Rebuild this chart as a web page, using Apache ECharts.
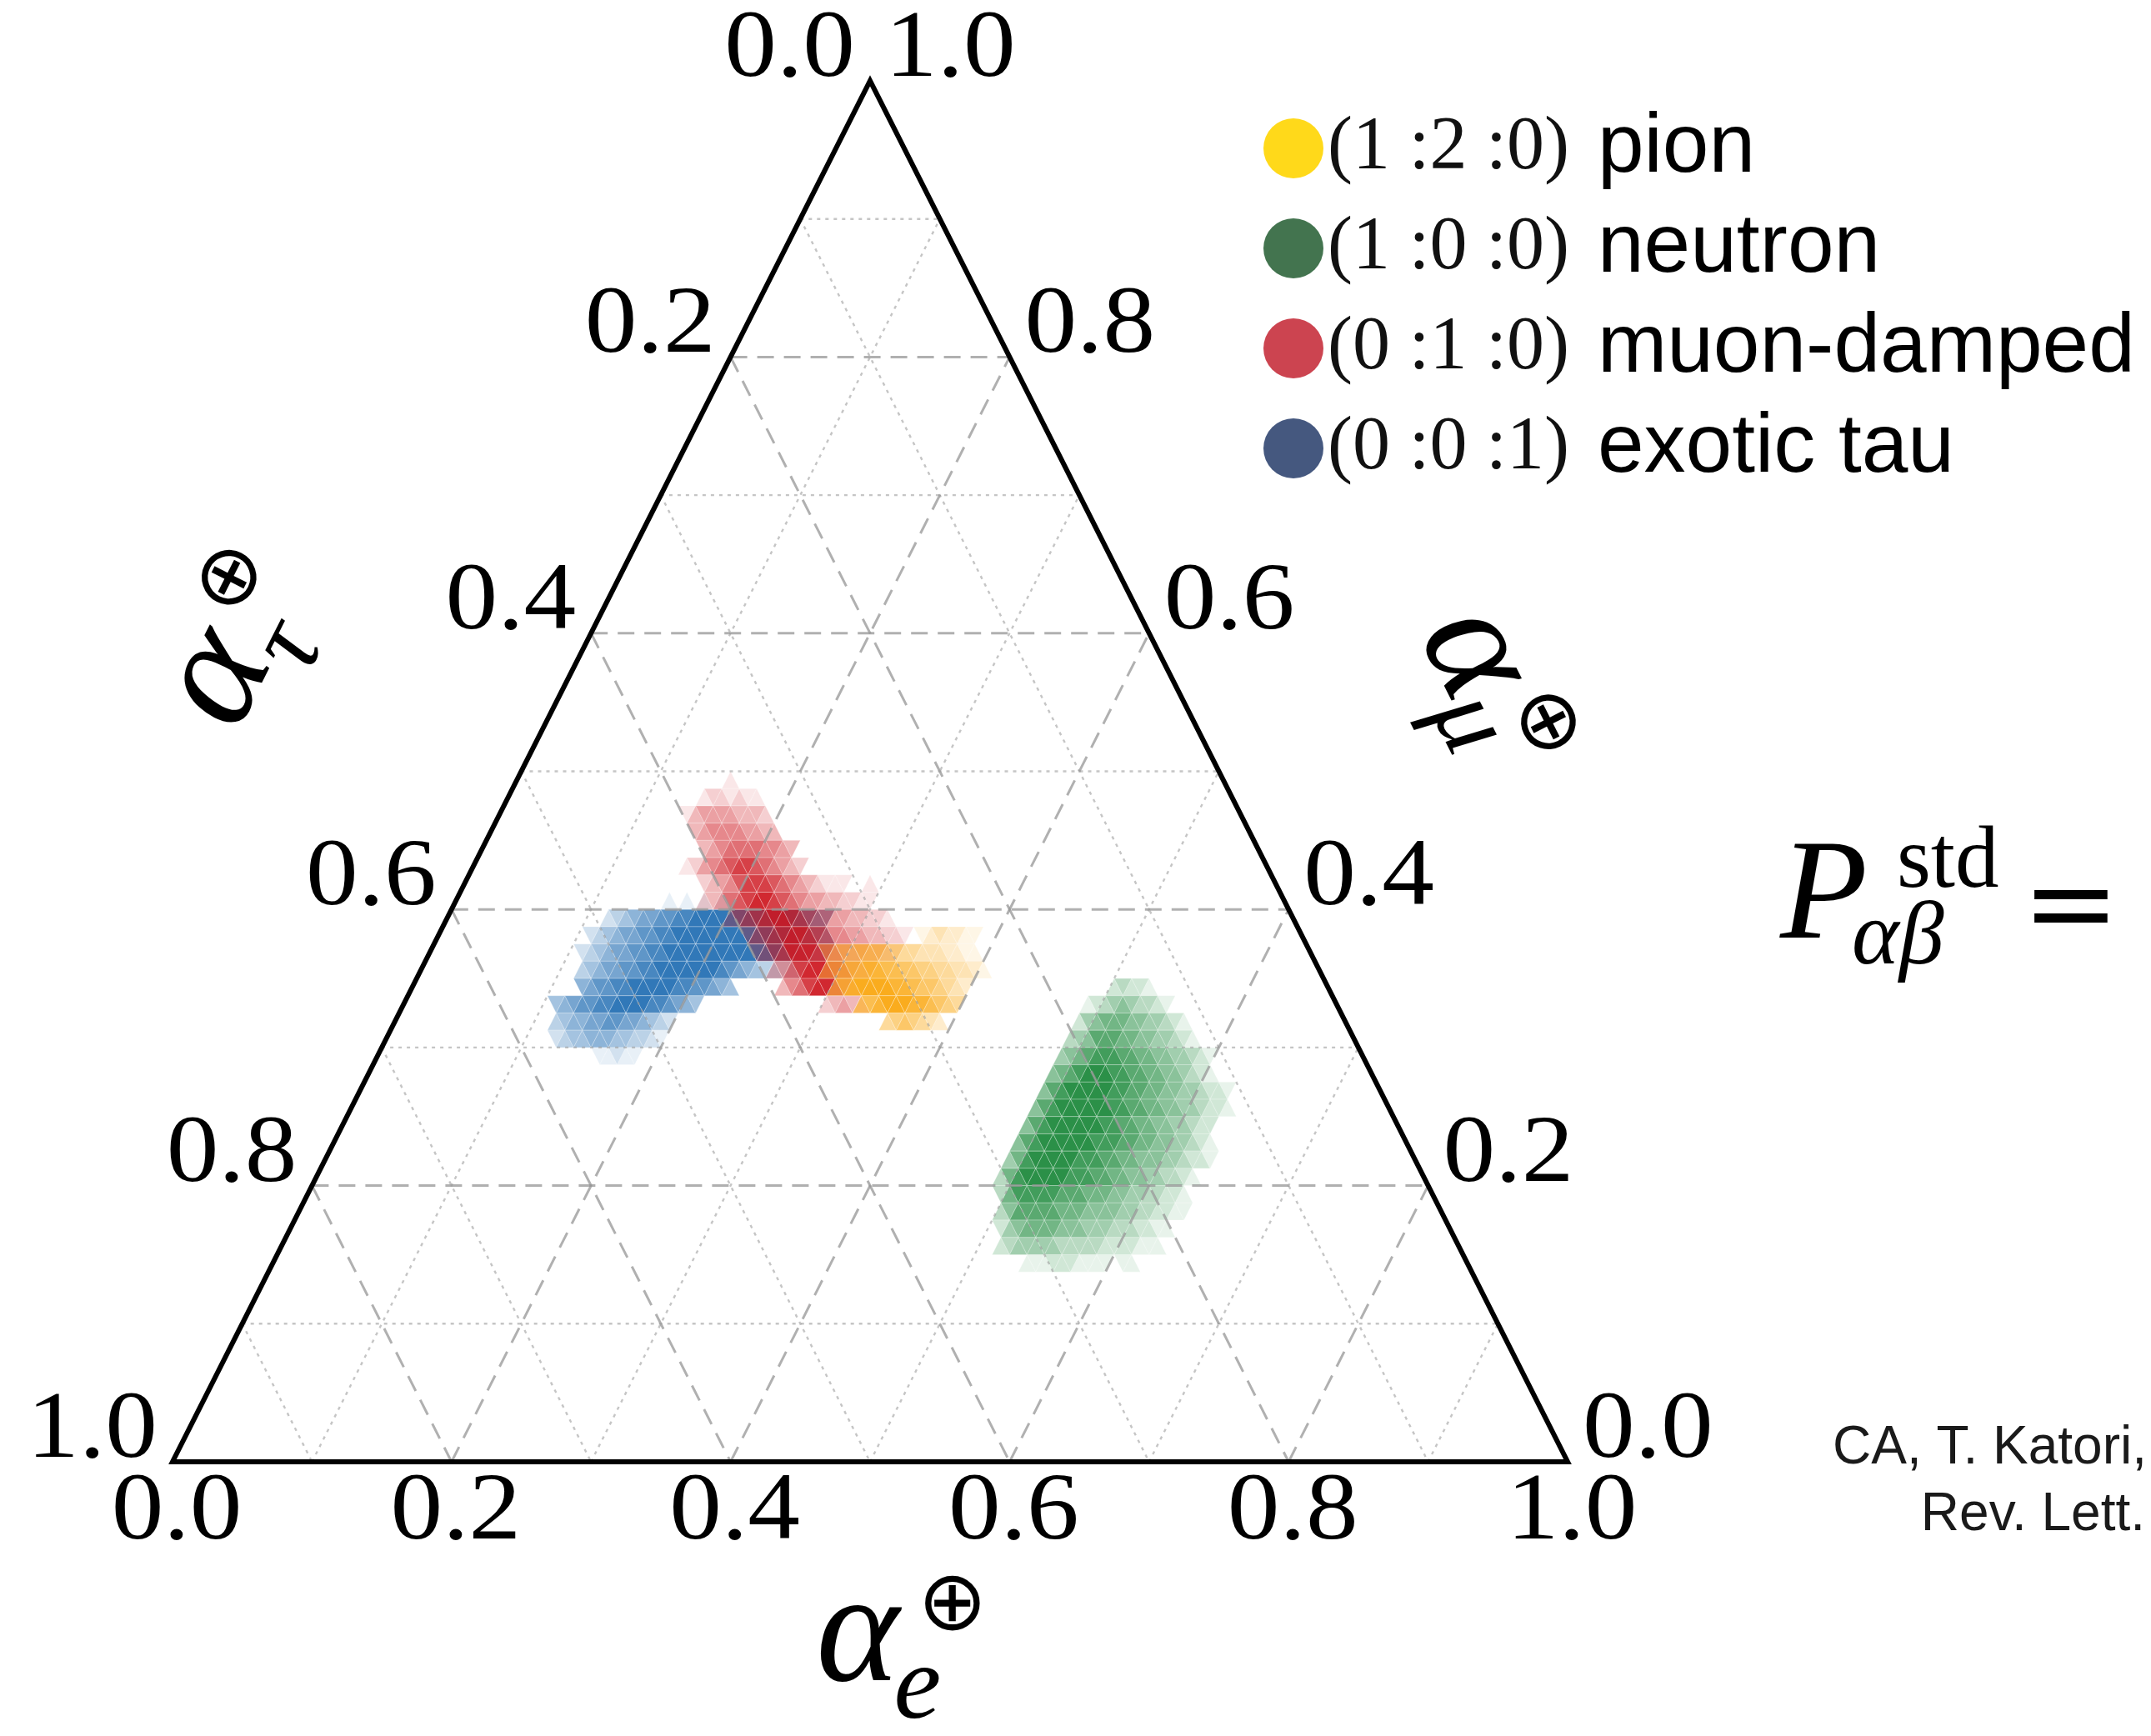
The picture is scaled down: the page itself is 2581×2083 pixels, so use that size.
<!DOCTYPE html>
<html><head><meta charset="utf-8">
<script src="https://cdn.jsdelivr.net/npm/echarts@6/dist/echarts.min.js"></script>
<style>html,body{margin:0;padding:0;background:#fff}#c{width:2581px;height:2083px}</style>
</head><body><div id="c"></div>
<script>
// ---- data ----
const N = 80; // ternary heatmap scale
const gridMinor = [0.1, 0.3, 0.5, 0.7, 0.9];
const gridMajor = [0.2, 0.4, 0.6, 0.8];
const tickValues = [0, 0.2, 0.4, 0.6, 0.8, 1.0];
const tickLabels = ['0.0', '0.2', '0.4', '0.6', '0.8', '1.0'];
const sourceNames = ['pion', 'neutron', 'muon-damped', 'exotic tau'];
const sourceRatios = ['(1 :2 :0)', '(1 :0 :0)', '(0 :1 :0)', '(0 :0 :1)'];
const legendColors = ['#FFD91A', '#43744F', '#CC4450', '#45587F'];
const heatRGB = { 'pion': '250,170,25', 'neutron': '25,135,56', 'muon-damped': '205,22,30', 'exotic tau': '32,108,178' };

// rows: [row j (alpha_mu index), first triangle index p (2i = up, 2i+1 = down), intensity levels 0-9 per triangle]
const tauRows = [
  [32, 24, '1010101'],
  [31, 18, '23456677889999999999998765'],
  [30, 17, '2345667788999999999999998765'],
  [29, 17, '23456677889999999999999876543'],
  [28, 18, '34566778899999998765433221'],
  [27, 19, '567788999998877654'],
  [26, 17, '45677889999887654'],
  [25, 18, '34556677665432'],
  [24, 19, '2344555443321'],
  [23, 25, '11211']
];
const muonRows = [
  [39, 24, '1'],
  [38, 22, '1221211'],
  [37, 21, '1344443332'],
  [36, 23, '3455554433'],
  [35, 25, '34566665543'],
  [34, 24, '12456788765432'],
  [33, 27, '23457888765432111001'],
  [32, 28, '23467899876544332211'],
  [31, 32, '3567899876554433221'],
  [30, 35, '3567899876554433221'],
  [29, 37, '34679998765443321'],
  [28, 40, '346899876432'],
  [27, 42, '356899753'],
  [26, 48, '23432']
];
const pionRows = [
  [30, 55, '1232211'],
  [29, 45, '345566655443332211'],
  [28, 46, '4567788776655443321'],
  [27, 48, '5789999887665432'],
  [26, 52, '678999887654'],
  [25, 56, '4565432']
];
const neutronRows = [
  [27, 80, '23221'],
  [26, 78, '1234543321'],
  [25, 78, '2456665544321'],
  [24, 78, '345777665544321'],
  [23, 78, '456788877665544321'],
  [22, 78, '5678999887766554321'],
  [21, 78, '5789999988776655443221'],
  [20, 78, '57899999988776655443221'],
  [19, 78, '5789999998877665544322'],
  [18, 78, '57899999988877665544321'],
  [17, 78, '468999998887766555443221'],
  [16, 78, '36899999888776655443321'],
  [15, 79, '3688888777666554433221'],
  [14, 80, '3577777666555544332211'],
  [13, 81, '24566665554443332211'],
  [12, 82, '2344444333332222111'],
  [11, 86, '1112221111011']
];

// ---- helpers ----
function decode(rows) {
  const out = [];
  rows.forEach(([j, p0, s]) => {
    for (let k = 0; k < s.length; k++) {
      const L = +s[k];
      if (L > 0) out.push([p0 + k, j, L]);
    }
  });
  return out;
}
function tern(api, e, m) { return api.coord([e + m / 2, m]); }

function heatRender(rgb, maxA) {
  return function (params, api) {
    const p = api.value(0), j = api.value(1), L = api.value(2);
    const i = Math.floor(p / 2);
    const verts = (p % 2 === 0) ? [[i, j], [i + 1, j], [i, j + 1]] : [[i + 1, j], [i, j + 1], [i + 1, j + 1]];
    const pts = verts.map(v => tern(api, v[0] / N, v[1] / N));
    return { type: 'polygon', shape: { points: pts },
      style: { fill: 'rgba(' + rgb + ',' + (maxA * L / 9).toFixed(3) + ')', stroke: 'rgba(255,255,255,0.28)', lineWidth: 1 } };
  };
}

function gridRender(params, api) {
  const v = api.value(0), major = api.value(1) === 1;
  const style = major
    ? { stroke: 'rgba(150,150,150,0.75)', lineWidth: 3, lineDash: [20, 12] }
    : { stroke: 'rgba(150,150,150,0.55)', lineWidth: 2.4, lineDash: [4, 6] };
  const segs = [
    [[0, v], [1 - v, v]],     // constant alpha_mu
    [[v, 0], [v, 1 - v]],     // constant alpha_e
    [[0, 1 - v], [1 - v, 0]]  // constant alpha_tau
  ];
  return { type: 'group', children: segs.map(s => {
    const a = tern(api, s[0][0], s[0][1]), b = tern(api, s[1][0], s[1][1]);
    return { type: 'line', shape: { x1: a[0], y1: a[1], x2: b[0], y2: b[1] }, style: style };
  }) };
}

function frameRender(params, api) {
  const corners = [[0, 0], [1, 0], [0, 1]];
  return { type: 'polygon', shape: { points: corners.map(c => tern(api, c[0], c[1])) },
    style: { fill: 'none', stroke: '#000', lineWidth: 6, lineJoin: 'miter' } };
}

function tickRender(params, api) {
  const side = api.value(0), k = api.value(1);
  const v = tickValues[k];
  let e, m, dx, dy, align;
  if (side === 0) { e = v; m = 0; dx = 5; dy = 62; align = 'center'; }
  else if (side === 1) { e = 1 - v; m = v; dx = 18; dy = -36; align = 'left'; }
  else { e = 0; m = 1 - v; dx = -18; dy = -36; align = 'right'; }
  const pt = tern(api, e, m);
  return { type: 'text', x: pt[0] + dx, y: pt[1] + dy, scaleX: 1.1,
    style: { text: tickLabels[k], font: '114px "Liberation Serif"', fill: '#000',
      align: align, verticalAlign: 'middle', textAlign: align, textVerticalAlign: 'middle' } };
}

const tickData = [];
for (let s = 0; s < 3; s++) for (let k = 0; k < tickValues.length; k++) tickData.push([s, k]);

function txt(x, y, text, font, align, fill, extra) {
  const a = align || 'center';
  return Object.assign({ type: 'text', x: x, y: y, silent: true,
    style: { text: text, font: font, fill: fill || '#000', align: a, verticalAlign: 'middle',
      textAlign: a, textVerticalAlign: 'middle' } }, extra || {});
}
function axisTitle(cx, cy, rot, sub, subY) {
  return { type: 'group', x: cx, y: cy, rotation: rot, children: [
    txt(0, -21, 'α', 'italic 190px "Liberation Serif"'),
    txt(72, subY, sub, 'italic 128px "Liberation Serif"'),
    txt(114, -58, '⊕', '100px "DejaVu Sans"')
  ] };
}

const heatOrder = [['exotic tau', tauRows], ['muon-damped', muonRows], ['pion', pionRows], ['neutron', neutronRows]];
const series = heatOrder.map(([name, rows]) => ({
  type: 'custom', name: name, coordinateSystem: 'cartesian2d', silent: true, z: 2,
  itemStyle: { color: legendColors[sourceNames.indexOf(name)] },
  data: decode(rows), renderItem: heatRender(heatRGB[name], name === 'pion' ? 0.98 : 0.92)
}));
series.push({ type: 'custom', coordinateSystem: 'cartesian2d', silent: true, z: 3,
  data: gridMinor.map(v => [v, 0]).concat(gridMajor.map(v => [v, 1])), renderItem: gridRender });
series.push({ type: 'custom', coordinateSystem: 'cartesian2d', silent: true, z: 4, data: [[0, 0]], renderItem: frameRender });
series.push({ type: 'custom', coordinateSystem: 'cartesian2d', silent: true, z: 4, data: tickData, renderItem: tickRender });

const chart = echarts.init(document.getElementById('c'), null, { renderer: 'canvas' });
chart.setOption({
  backgroundColor: '#ffffff',
  animation: false,
  grid: { left: 207, top: 97, width: 1674, height: 1657 },
  xAxis: { type: 'value', min: 0, max: 1, show: false },
  yAxis: { type: 'value', min: 0, max: 1, show: false },
  legend: {
    orient: 'vertical', left: 1511, top: 123, itemWidth: 72, itemHeight: 72, itemGap: 20,
    icon: 'circle', selectedMode: false,
    data: sourceNames.map((n, k) => ({ name: n, itemStyle: { color: legendColors[k] } })),
    formatter: function (name) { return '{m|' + sourceRatios[sourceNames.indexOf(name)] + '}{t|' + name + '}'; },
    textStyle: { rich: {
      m: { fontFamily: 'Liberation Serif', fontSize: 90, lineHeight: 100, color: '#111', padding: [0, 0, 0, 0] },
      t: { fontFamily: 'Liberation Sans', fontSize: 100, lineHeight: 100, color: '#000', padding: [0, 0, 0, 34] }
    } }
  },
  series: series,
  graphic: [
    axisTitle(1029, 1987, 0, 'e', 40),
    axisTitle(280, 823, 1.103, 'τ', 40),
    axisTitle(1750, 793, -1.103, 'μ', 24),
    txt(2136, 1080, 'P', 'italic 172px "Liberation Serif"', 'left'),
    txt(2276, 1036, 'std', '105px "Liberation Serif"', 'left'),
    txt(2222, 1128, 'αβ', 'italic 108px "Liberation Serif"', 'left'),
    txt(2485, 1096, '=', '140px "DejaVu Serif"', 'center'),
    txt(2576, 1738, 'CA, T. Katori,', '64px "Liberation Sans"', 'right', '#1a1a1a'),
    txt(2574, 1818, 'Rev. Lett.', '64px "Liberation Sans"', 'right', '#1a1a1a')
  ]
});
</script></body></html>
